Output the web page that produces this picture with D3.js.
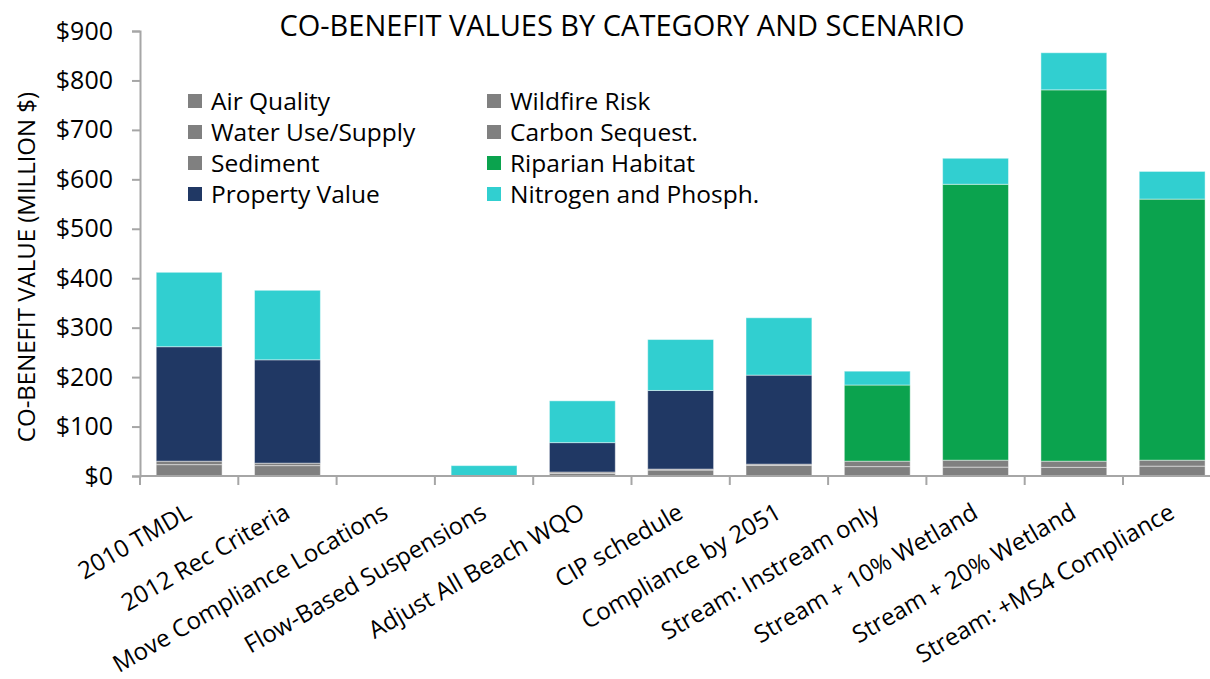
<!DOCTYPE html>
<html>
<head>
<meta charset="utf-8">
<script src="https://cdn.jsdelivr.net/npm/d3@7"></script>
<style>
  html, body { margin: 0; padding: 0; background: #ffffff; }
  svg { display: block; font-family: "Open Sans", "Noto Sans", sans-serif; }
</style>
</head>
<body>
<svg id="chart" width="1210" height="679"></svg>
<script>
// ---- data ----
const categories = [
  "2010 TMDL", "2012 Rec Criteria", "Move Compliance Locations", "Flow-Based Suspensions",
  "Adjust All Beach WQO", "CIP schedule", "Compliance by 2051", "Stream: Instream only",
  "Stream + 10% Wetland", "Stream + 20% Wetland", "Stream: +MS4 Compliance"
];
const seriesNames = [
  "Air Quality", "Wildfire Risk", "Water Use/Supply", "Carbon Sequest.",
  "Sediment", "Riparian Habitat", "Property Value", "Nitrogen and Phosph."
];
const airQuality   = [23, 21, 0, 0, 5, 12, 21.5, 19, 18, 17.5, 20];
const wildfireRisk = [0, 0, 0, 0, 0, 0, 0, 0, 0, 0, 0];
const waterUse     = [7, 5, 0, 0, 3, 2, 2.5, 0, 0, 0, 0];
const carbonSeq    = [0, 0, 0, 0, 0, 0, 0, 11, 14, 12.5, 12];
const sediment     = [0, 0, 0, 0, 0, 0, 0, 0, 0, 0, 0];
const riparian     = [0, 0, 0, 0, 0, 0, 0, 154, 558, 751, 528];
const property     = [231.5, 209, 0, 0, 59.5, 159, 180, 0, 0, 0, 0];
const nitrogen     = [150.5, 140.6, 0, 21, 84.5, 103, 116, 28, 52.6, 75, 56];
const yTicks = [0, 100, 200, 300, 400, 500, 600, 700, 800, 900];
const seriesColors = ["#808080", "#808080", "#808080", "#808080", "#808080", "#0ba34e", "#203864", "#31cfd0"];

const seriesValues = [airQuality, wildfireRisk, waterUse, carbonSeq, sediment, riparian, property, nitrogen];
const rows = categories.map((c, i) => {
  const r = { category: c };
  seriesNames.forEach((s, k) => r[s] = seriesValues[k][i]);
  return r;
});

// ---- layout ----
const svg = d3.select("#chart");
const plotLeft = 140, plotBottom = 476, plotTop = 31;
const step = 98.3;
const x = d3.scaleBand().domain(categories)
  .range([plotLeft, plotLeft + step * categories.length])
  .paddingInner(0.33).paddingOuter(0.165);
const y = d3.scaleLinear().domain([0, 900]).range([plotBottom, plotTop]);
const color = d3.scaleOrdinal().domain(seriesNames).range(seriesColors);

const stacked = d3.stack().keys(seriesNames)(rows);

// bars
svg.append("g").selectAll("g").data(stacked).join("g")
  .attr("fill", d => color(d.key))
  .selectAll("rect").data(d => d.filter(p => p[1] - p[0] > 0)).join("rect")
  .attr("x", d => x(d.data.category))
  .attr("width", x.bandwidth())
  .attr("y", d => y(d[1]))
  .attr("height", d => y(d[0]) - y(d[1]))
  .attr("stroke", "rgba(255,255,255,0.45)")
  .attr("stroke-width", 1);

// y axis
const axisColor = "#a6a6a6";
const yAxis = svg.append("g").attr("transform", `translate(${plotLeft},0)`)
  .call(d3.axisLeft(y).tickValues(yTicks).tickSize(8).tickPadding(19)
    .tickFormat(d => "$" + d3.format(",")(d)));
yAxis.select(".domain").attr("stroke", axisColor).attr("stroke-width", 2);
yAxis.selectAll(".tick line").attr("stroke", axisColor).attr("stroke-width", 2);
yAxis.selectAll(".tick text").attr("fill", "#000").style("font-size", "25px")
  .style("font-family", "'Open Sans', sans-serif");

// x axis line and boundary ticks
const xg = svg.append("g");
xg.append("line").attr("x1", plotLeft).attr("x2", 1210).attr("y1", plotBottom).attr("y2", plotBottom)
  .attr("stroke", axisColor).attr("stroke-width", 2);
const boundaries = d3.range(categories.length + 1).map(i => i === categories.length
  ? x.range()[1] : x(categories[i]) - x.step() * x.paddingInner() / 2);
xg.selectAll("line.tk").data(boundaries).join("line").attr("class", "tk")
  .attr("x1", d => d).attr("x2", d => d).attr("y1", plotBottom).attr("y2", plotBottom + 9)
  .attr("stroke", axisColor).attr("stroke-width", 2);

// x labels
xg.selectAll("text.xl").data(categories).join("text").attr("class", "xl")
  .attr("transform", d => `translate(${x(d) + x.bandwidth() / 2 + 4},${plotBottom + 41}) rotate(-30)`)
  .attr("text-anchor", "end")
  .style("font-size", "24px")
  .attr("fill", "#000")
  .text(d => d);

// title
svg.append("text").attr("x", 622).attr("y", 36).attr("text-anchor", "middle")
  .style("font-size", "29px").attr("fill", "#000")
  .text("CO-BENEFIT VALUES BY CATEGORY AND SCENARIO");

// y axis title
svg.append("text").attr("transform", "translate(35,267) rotate(-90)")
  .attr("text-anchor", "middle").style("font-size", "24px").attr("fill", "#000")
  .text("CO-BENEFIT VALUE (MILLION $)");

// legend (two columns, row-wise order)
const legend = svg.append("g");
const lg = legend.selectAll("g").data(seriesNames).join("g")
  .attr("transform", (d, i) => `translate(${i % 2 === 0 ? 188 : 487},${101 + Math.floor(i / 2) * 31})`);
lg.append("rect").attr("x", 0).attr("y", -7).attr("width", 14).attr("height", 14)
  .attr("fill", d => color(d));
lg.append("text").attr("x", 23).attr("y", 0).attr("dy", "0.35em")
  .style("font-size", "24.5px").attr("fill", "#000").text(d => d);
</script>
</body>
</html>
